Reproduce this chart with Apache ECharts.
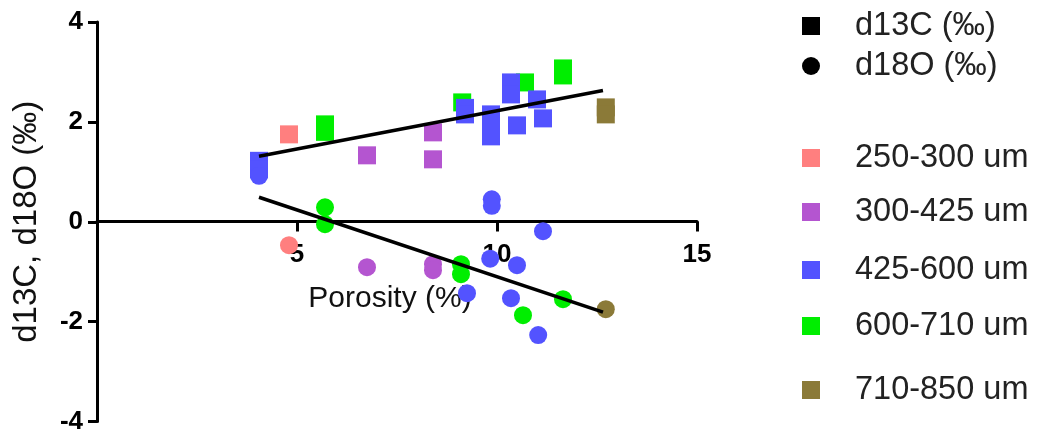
<!DOCTYPE html>
<html>
<head>
<meta charset="utf-8">
<script src="https://cdn.jsdelivr.net/npm/echarts@6/dist/echarts.min.js"></script>
<style>
html,body{margin:0;padding:0;background:#fff;}
#chart{width:1037px;height:436px;}
</style>
</head>
<body>
<div id="chart"></div>
<script>
// ---- data ----
const sizeClasses = ['250-300 um', '300-425 um', '425-600 um', '600-710 um', '710-850 um'];
const xTicks = [0, 5, 10, 15];
const yTicks = [-4, -2, 0, 2, 4];

// d13C (squares): [porosity, value]
const d13C_250 = [[4.8, 1.75]];
const d13C_300 = [[6.75, 1.33], [8.4, 1.79], [8.4, 1.25]];
const d13C_425 = [[4.05, 1.22], [4.05, 1.05], [9.2, 2.28], [9.2, 2.15], [9.85, 2.15], [9.85, 1.93], [9.85, 1.71],
                  [10.35, 2.79], [10.35, 2.55], [10.5, 1.93], [11.0, 2.45], [11.15, 2.07]];
const d13C_600 = [[5.7, 1.95], [5.7, 1.8], [9.13, 2.39], [10.7, 2.79], [11.65, 3.07], [11.65, 2.93]];
const d13C_710 = [[12.72, 2.29], [12.72, 2.15]];

// d18O (circles)
const d18O_250 = [[4.8, -0.47]];
const d18O_300 = [[6.75, -0.91], [8.4, -0.85], [8.4, -0.97]];
const d18O_425 = [[4.05, 0.92], [9.87, 0.45], [9.87, 0.32], [9.83, -0.74], [10.5, -0.87], [11.15, -0.19],
                  [10.35, -1.53], [9.25, -1.43], [11.03, -2.27]];
const d18O_600 = [[5.7, 0.29], [5.7, -0.05], [9.1, -0.85], [9.1, -1.05], [10.65, -1.87], [11.65, -1.55]];
const d18O_710 = [[12.72, -1.75]];

// fitted lines (endpoints)
const fitC = [[4.05, 1.31], [12.65, 2.63]];
const fitO = [[4.05, 0.49], [12.65, -1.81]];

// ---- styles ----
const colors = {
  '250-300 um': '#FF7F7F',
  '300-425 um': '#B455D0',
  '425-600 um': '#5353FF',
  '600-710 um': '#00EE00',
  '710-850 um': '#8B7A38'
};
const FONT = 'Liberation Sans, Arial, sans-serif';

function sc(name, data, symbol) {
  return {
    type: 'scatter', name: name, data: data, symbol: symbol, symbolSize: 18,
    itemStyle: { color: colors[name], opacity: 1 },
    emphasis: { disabled: true }
  };
}

const series = [
  { type: 'scatter', name: 'd13C (‰)', data: [], symbol: 'rect', itemStyle: { color: '#000', opacity: 1 } },
  { type: 'scatter', name: 'd18O (‰)', data: [], symbol: 'circle', itemStyle: { color: '#000', opacity: 1 } },
  sc('250-300 um', d13C_250, 'rect'), sc('250-300 um', d18O_250, 'circle'),
  sc('300-425 um', d13C_300, 'rect'), sc('300-425 um', d18O_300, 'circle'),
  sc('600-710 um', d13C_600, 'rect'), sc('600-710 um', d18O_600, 'circle'),
  sc('425-600 um', d13C_425, 'rect'), sc('425-600 um', d18O_425, 'circle'),
  sc('710-850 um', d13C_710, 'rect'), sc('710-850 um', d18O_710, 'circle'),
  { type: 'line', name: 'fitC', data: fitC, symbol: 'none', lineStyle: { color: '#000', width: 3.5 }, z: 5, silent: true },
  { type: 'line', name: 'fitO', data: fitO, symbol: 'none', lineStyle: { color: '#000', width: 3.5 }, z: 5, silent: true }
];

const legendItems = [
  { name: 'd13C (‰)', icon: 'rect', cy: 26 },
  { name: 'd18O (‰)', icon: 'circle', cy: 66 },
  { name: '250-300 um', icon: 'rect', cy: 158 },
  { name: '300-425 um', icon: 'rect', cy: 212 },
  { name: '425-600 um', icon: 'rect', cy: 270 },
  { name: '600-710 um', icon: 'rect', cy: 326 },
  { name: '710-850 um', icon: 'rect', cy: 390 }
];
const legends = legendItems.map(it => ({
  data: [{ name: it.name, icon: it.icon }],
  left: 802, top: it.cy - 18, padding: 0,
  itemWidth: 18, itemHeight: 18,
  selectedMode: false,
  textStyle: { fontFamily: FONT, fontSize: 32.5, color: '#222', lineHeight: 36, padding: [0, 0, 0, 30] }
}));

const chart = echarts.init(document.getElementById('chart'));
chart.setOption({
  animation: false,
  backgroundColor: '#fff',
  grid: { left: 97, right: 340, top: 22, bottom: 14.5, containLabel: false, outerBoundsMode: 'none' },
  legend: legends,
  xAxis: {
    type: 'value', min: xTicks[0], max: xTicks[xTicks.length - 1], interval: 5,
    position: 'bottom', offset: -200,
    name: 'Porosity (%)', nameLocation: 'middle', nameGap: 62,
    nameTextStyle: { fontFamily: FONT, fontSize: 30, color: '#111', padding: [0, 14, 0, 0] },
    axisLine: { onZero: false, lineStyle: { color: '#000', width: 3 } },
    axisTick: { show: true, length: 10, lineStyle: { color: '#000', width: 3 } },
    axisLabel: { showMinLabel: false, margin: 20, fontFamily: FONT, fontSize: 26, fontWeight: 'bold', color: '#000' },
    splitLine: { show: false }
  },
  yAxis: {
    type: 'value', min: yTicks[0], max: yTicks[yTicks.length - 1], interval: 2,
    name: 'd13C, d18O (‰)', nameLocation: 'middle', nameGap: 54,
    nameTextStyle: { fontFamily: FONT, fontSize: 33, color: '#111' },
    axisLine: { show: true, lineStyle: { color: '#000', width: 3 } },
    axisTick: { show: true, length: 9, lineStyle: { color: '#000', width: 3 } },
    axisLabel: { margin: 14, fontFamily: FONT, fontSize: 26, fontWeight: 'bold', color: '#000' },
    splitLine: { show: false }
  },
  series: series
});
</script>
</body>
</html>
